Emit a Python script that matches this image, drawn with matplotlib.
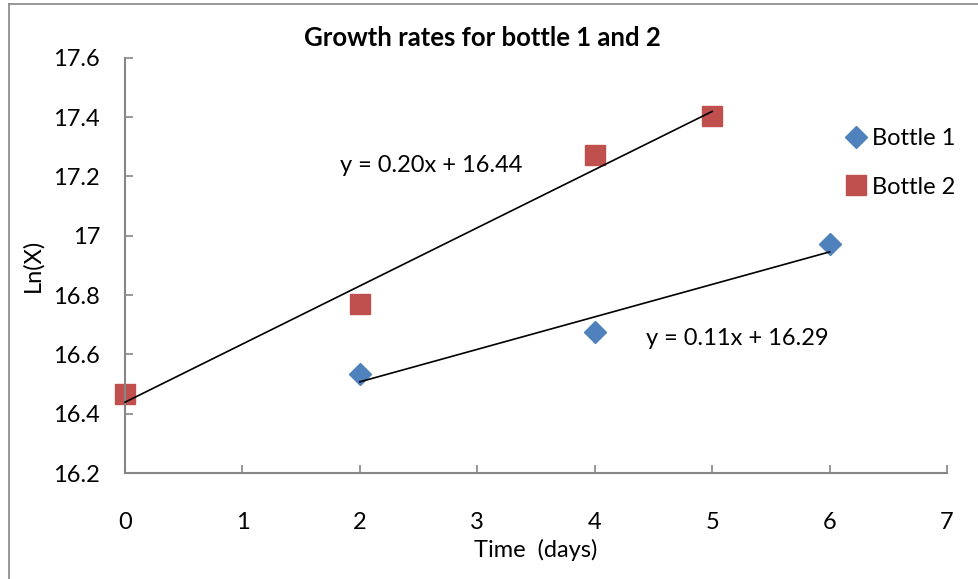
import matplotlib
matplotlib.use("Agg")
import matplotlib.pyplot as plt
import numpy as np
from matplotlib.lines import Line2D

# data
days_b1 = [2, 4, 6]
lnx_b1 = [16.533, 16.675, 16.971]
days_b2 = [0, 2, 4, 5]
lnx_b2 = [16.466, 16.769, 17.271, 17.405]

plt.rcParams['font.family'] = ['Lato', 'DejaVu Sans']
plt.rcParams['font.size'] = 17

fig = plt.figure(figsize=(9.79, 5.79), dpi=100)
ax = fig.add_axes([125/979, 1 - 473/579, (947-125)/979, (473-57.7)/579])

blue = "#4F81BD"
red = "#C0504D"

ax.plot(days_b1, lnx_b1, ls="none", marker="D", ms=11.5, color=blue, label="Bottle 1", clip_on=False)
ax.plot(days_b2, lnx_b2, ls="none", marker="s", ms=14, color=red, label="Bottle 2", clip_on=False)

# linear trend lines
for xs, ys in [(days_b1, lnx_b1), (days_b2, lnx_b2)]:
    m, b = np.polyfit(xs, ys, 1)
    xx = np.array([min(xs), max(xs)])
    ax.plot(xx, m*xx + b, color="black", lw=1.2, zorder=3, clip_on=False)

ax.text(1.835, 17.237, "y = 0.20x + 16.44", va="center", ha="left")
ax.text(4.44, 16.655, "y = 0.11x + 16.29", va="center", ha="left")

ax.set_xlim(0, 7)
ax.set_ylim(16.2, 17.6)
ax.set_xticks(range(0, 8))
ax.set_yticks([16.2, 16.4, 16.6, 16.8, 17.0, 17.2, 17.4, 17.6])
ax.set_yticklabels(["16.2", "16.4", "16.6", "16.8", "17", "17.2", "17.4", "17.6"])
for s in ["top", "right"]:
    ax.spines[s].set_visible(False)
for s in ["left", "bottom"]:
    ax.spines[s].set_color("#868686")
    ax.spines[s].set_linewidth(1.5)
ax.tick_params(direction="in", length=6, width=1.2, color="#868686")
ax.tick_params(axis="y", pad=18)
ax.tick_params(axis="x", pad=28)

ax.set_xlabel("Time  (days)", labelpad=4)
ax.set_ylabel("Ln(X)", labelpad=7)
fig.text(482/979, 1 - 38/579, "Growth rates for bottle 1 and 2", ha="center", va="center",
         fontweight="bold", fontsize=18.5)

ax.legend(loc="center left", bbox_to_anchor=(834/979, 1 - 163/579), bbox_transform=fig.transFigure,
          frameon=False, handletextpad=0.1, labelspacing=1.15, handlelength=1.1, borderaxespad=0)

# chart border (top and left edges)
fig.add_artist(Line2D([9/979, 9/979], [0, 1 - 4/579], color="#868686", lw=1.2))
fig.add_artist(Line2D([9/979, 1], [1 - 4/579, 1 - 4/579], color="#868686", lw=1.2))

fig.savefig("out.png", dpi=100)
